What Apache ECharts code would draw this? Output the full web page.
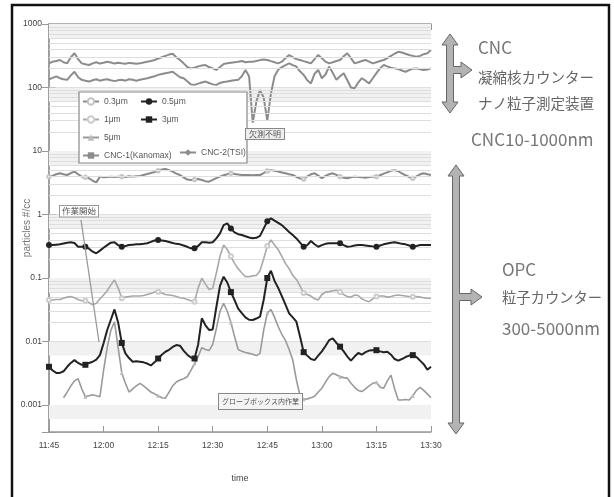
<!DOCTYPE html>
<html><head><meta charset="utf-8">
<script src="https://cdn.jsdelivr.net/npm/echarts@6/dist/echarts.min.js"></script>
<style>html,body{margin:0;padding:0;background:#fff}#c{width:614px;height:497px}</style>
</head><body><div id="c"></div>
<script>
// ---- tick labels ----
const xTickLabels = ['11:45','12:00','12:15','12:30','12:45','13:00','13:15','13:30'];
const yDecades = [0.001, 0.01, 0.1, 1, 10, 100, 1000];
// ---- time grid: minutes after 11:45 ----
const minutes = Array.from({length:106}, (_, i) => i);
// ---- series values (1-minute resolution) ----
const cnc1 = [240,255,262,271,250,240,300,346,280,240,232,226,240,250,238,245,255,248,238,245,
  240,236,244,240,236,240,248,255,262,271,285,300,315,330,340,300,271,240,210,200,
  205,215,222,226,210,200,189,210,235,240,245,250,255,262,250,255,255,262,270,275,
  271,260,250,240,255,290,325,300,280,271,260,250,240,280,325,290,255,240,250,262,
  271,310,346,290,240,250,262,271,255,240,250,262,271,290,315,340,365,355,340,325,
  315,305,315,335,346,390];
const cnc2 = [135,142,150,140,135,132,155,177,145,132,128,124,130,135,128,132,135,130,126,130,
  132,128,135,132,128,132,136,140,145,150,158,163,168,172,177,160,145,140,125,112,
  110,115,120,124,118,112,110,118,122,124,128,130,132,150,189,150,28,60,91,70,
  30,80,150,190,210,225,240,225,213,180,158,130,116,165,189,140,160,213,170,132,
  150,168,130,100,97,120,140,128,116,140,168,200,226,215,205,200,195,185,177,188,
  198,200,194,189,192,200];
const p03 = [3.95,4.1,4.3,4.45,4.3,4.19,4.5,4.73,4.3,3.95,3.85,3.72,3.4,3.21,3.95,3.85,3.9,3.95,3.9,3.95,
  3.95,3.9,4.0,3.95,4.0,4.05,4.2,4.35,4.5,4.65,4.9,5.1,5.2,5.0,4.73,4.4,4.19,3.85,3.55,3.49,
  3.55,3.62,3.5,3.35,3.29,3.5,3.75,3.95,4.15,4.3,4.45,4.35,4.25,4.2,4.19,4.2,4.15,4.2,4.19,4.5,
  4.85,5.0,4.9,4.75,4.6,4.45,4.3,4.19,3.9,3.7,3.62,4.0,4.3,4.45,4.1,3.72,4.05,4.3,4.45,4.2,
  3.95,3.8,3.72,3.85,3.95,3.9,3.85,3.8,3.9,3.95,3.95,4.15,4.4,4.6,4.9,5.0,4.8,4.45,4.15,3.9,
  3.72,4.0,4.3,4.45,4.3,4.19];
const p05 = [0.331,0.33,0.335,0.339,0.35,0.36,0.365,0.355,0.311,0.31,0.311,0.29,0.26,0.245,0.27,0.30,0.33,0.36,0.365,0.33,
  0.311,0.32,0.33,0.335,0.339,0.339,0.345,0.352,0.37,0.39,0.397,0.39,0.383,0.37,0.355,0.345,0.339,0.325,0.31,0.293,
  0.293,0.32,0.365,0.365,0.36,0.365,0.42,0.506,0.68,0.726,0.6,0.524,0.49,0.475,0.455,0.435,0.422,0.43,0.46,0.6,
  0.78,0.871,0.8,0.74,0.68,0.6,0.53,0.475,0.42,0.36,0.311,0.33,0.383,0.34,0.311,0.33,0.345,0.352,0.352,0.352,
  0.352,0.33,0.311,0.315,0.325,0.331,0.33,0.325,0.32,0.315,0.311,0.325,0.339,0.35,0.36,0.365,0.355,0.345,0.339,0.325,
  0.311,0.32,0.331,0.331,0.33,0.331];
const p1 = [0.045,0.045,0.046,0.046,0.048,0.05,0.051,0.049,0.046,0.044,0.044,0.041,0.038,0.04,0.047,0.054,0.063,0.078,0.093,0.07,
  0.048,0.05,0.051,0.052,0.052,0.052,0.053,0.055,0.057,0.06,0.061,0.058,0.055,0.054,0.053,0.051,0.049,0.048,0.046,0.044,
  0.0424,0.07,0.099,0.08,0.066,0.069,0.12,0.22,0.33,0.28,0.22,0.17,0.14,0.12,0.105,0.105,0.108,0.11,0.13,0.2,
  0.32,0.397,0.33,0.28,0.22,0.17,0.14,0.11,0.095,0.075,0.058,0.055,0.052,0.047,0.045,0.055,0.06,0.061,0.063,0.064,
  0.06,0.055,0.051,0.05,0.054,0.053,0.047,0.044,0.0424,0.047,0.051,0.052,0.052,0.05,0.051,0.053,0.054,0.053,0.052,0.051,
  0.0508,0.051,0.05,0.049,0.048,0.048];
const p3 = [0.004,0.0035,0.0032,0.0032,0.0034,0.004,0.0046,0.0051,0.0046,0.0043,0.0043,0.0046,0.0048,0.0052,0.0061,0.0094,0.0152,0.022,0.032,0.02,
  0.0095,0.0065,0.0055,0.0048,0.0049,0.0048,0.0047,0.0045,0.0042,0.0047,0.0054,0.0062,0.0069,0.0074,0.0082,0.0088,0.0086,0.0072,0.0062,0.0056,
  0.0054,0.009,0.0232,0.018,0.0152,0.0155,0.035,0.075,0.105,0.085,0.06,0.045,0.033,0.028,0.024,0.022,0.0218,0.023,0.0246,0.045,
  0.1,0.13,0.09,0.07,0.052,0.038,0.0278,0.024,0.0205,0.012,0.0068,0.006,0.0053,0.0051,0.006,0.007,0.0085,0.0105,0.0112,0.0095,
  0.0083,0.007,0.0058,0.005,0.0058,0.0066,0.0062,0.0068,0.0072,0.0073,0.0073,0.007,0.0068,0.0069,0.0062,0.0053,0.005,0.0053,0.0057,0.006,
  0.0061,0.0057,0.005,0.0044,0.0036,0.004];
const p5 = [null,null,null,null,0.0013,0.0016,0.002,0.0024,0.0026,0.0018,0.00135,0.0014,0.00145,0.0014,0.00135,0.0035,0.008,0.015,0.0205,0.008,
  0.0032,0.0022,0.0016,0.0018,0.002,0.0022,0.002,0.0018,0.0016,0.0015,0.0014,0.0013,0.00128,0.0016,0.002,0.0023,0.00248,0.0026,0.00279,0.0035,
  0.0045,0.0058,0.008,0.0075,0.0072,0.009,0.016,0.03,0.04,0.03,0.02,0.012,0.0075,0.007,0.0067,0.0065,0.0063,0.006,0.0065,0.015,
  0.028,0.032,0.024,0.0172,0.013,0.0104,0.0075,0.0051,0.0025,0.0014,0.00123,0.00125,0.0013,0.00137,0.0016,0.00184,0.0023,0.0028,0.00316,0.003,
  0.0028,0.0027,0.00265,0.0022,0.0019,0.0017,0.00163,0.0018,0.002,0.0022,0.00229,0.0019,0.00184,0.0024,0.00296,0.0018,0.0012,0.0012,0.00122,0.0012,
  0.0014,0.0017,0.0019,0.0017,0.0015,0.0013];

function pts(arr){ return minutes.map((m, i) => [m, arr[i]]); }
function markSize(s){ return function(v){ return (v[0] % 10 === 0) ? s : 0; }; }

// minor grid values (style only)
const minorGrid = [];
const bands = [];
for (let e = -4; e <= 2; e++) {
  const d = Math.pow(10, e);
  for (let k = 2; k <= 9; k++) minorGrid.push({yAxis: +(k * d).toPrecision(3)});
  bands.push([{yAxis: +(0.6 * d * 10).toPrecision(3)}, {yAxis: +(d * 10).toPrecision(3)}]);
}

const FONT = '"Liberation Sans Narrow","Liberation Sans",Arial,sans-serif';
const JP = '"Noto Sans CJK JP","Noto Sans",sans-serif';

const chart = echarts.init(document.getElementById('c'), null, {renderer:'canvas'});

function arrowPts(cx, top, bottom, by, tipX){
  const hw = 3.5, hh = 8, hl = 11;
  return [[cx, top],[cx+hh, top+hl],[cx+hw, top+hl],[cx+hw, by-hw],[tipX-hl, by-hw],[tipX-hl, by-hh],[tipX, by],
    [tipX-hl, by+hh],[tipX-hl, by+hw],[cx+hw, by+hw],[cx+hw, bottom-hl],[cx+hh, bottom-hl],[cx, bottom],
    [cx-hh, bottom-hl],[cx-hw, bottom-hl],[cx-hw, top+hl],[cx-hh, top+hl]];
}

const legendText = {fontSize: 8.5, color: '#555', fontFamily: FONT};
const legendBase = {orient: 'vertical', itemWidth: 16, itemHeight: 8, itemGap: 9, textStyle: legendText, padding: 0, z: 30};
const option = {
  animation: false,
  backgroundColor: '#fff',
  grid: {left: 49, right: 183, top: 24, bottom: 65, show: false, containLabel: false, outerBoundsMode: 'none'},
  legend: [
    Object.assign({data: ['0.3μm','1μm','5μm','CNC-1(Kanomax)'], left: 82, top: 97}, legendBase),
    Object.assign({data: ['0.5μm','3μm'], left: 140, top: 97}, legendBase),
    Object.assign({data: ['CNC-2(TSI)'], left: 179, top: 148}, legendBase)
  ],
  xAxis: [{
    type: 'value', min: 0, max: 105, interval: 15,
    name: 'time', nameLocation: 'middle', nameGap: 42, nameMoveOverlap: false,
    nameTextStyle: {fontSize: 9, color: '#444', fontFamily: FONT},
    axisLine: {lineStyle: {color: '#999', width: 1.5}},
    axisTick: {inside: true, length: 6, lineStyle: {color: '#999'}},
    axisLabel: {fontSize: 8.5, color: '#444', fontFamily: FONT, margin: 9,
      formatter: v => xTickLabels[Math.round(v / 15)]},
    splitLine: {show: false}
  }, {
    type: 'value', min: 0, max: 105, interval: 15, position: 'top',
    axisLine: {lineStyle: {color: '#999', width: 1.5}},
    axisTick: {inside: true, length: 6, lineStyle: {color: '#999'}},
    axisLabel: {show: false}, splitLine: {show: false}
  }],
  yAxis: [{
    type: 'log', logBase: 10, min: 0.000376, max: 1000,
    name: 'particles #/cc', nameLocation: 'middle', nameGap: 17, nameRotate: 90, nameMoveOverlap: false,
    nameTextStyle: {fontSize: 10, color: '#777', fontFamily: FONT},
    axisLine: {show: true, lineStyle: {color: '#999', width: 1.5}},
    axisTick: {inside: true, length: 7, lineStyle: {color: '#999'}},
    axisLabel: {fontSize: 8.5, color: '#444', fontFamily: FONT, margin: 7,
      formatter: v => { const l = Math.log10(v); return Math.abs(l - Math.round(l)) < 1e-6 ? String(yDecades[Math.round(l) + 3]) : ''; }},
    splitLine: {show: true, lineStyle: {color: '#cfcfcf', width: 1}}
  }, {
    type: 'log', logBase: 10, min: 0.000376, max: 1000, position: 'right',
    axisLine: {show: true, lineStyle: {color: '#999', width: 1.5}},
    axisTick: {inside: true, length: 7, lineStyle: {color: '#999'}},
    axisLabel: {show: false}, splitLine: {show: false}
  }],
  series: [
    {type: 'line', data: [], silent: true, z: 1,
      markLine: {silent: true, symbol: 'none', label: {show: false}, lineStyle: {color: '#dedede', width: 1, type: 'solid'}, data: minorGrid},
      markArea: {silent: true, itemStyle: {color: '#f1f1f1'}, data: bands}},
    {name: 'CNC-1(Kanomax)', type: 'line', data: pts(cnc1), z: 3, symbol: 'path://M0,0L1,0L1,10L0,10Z', symbolSize: 0,
      lineStyle: {color: '#8c8c8c', width: 2}, itemStyle: {color: '#8c8c8c'}},
    {name: 'CNC-2(TSI)', type: 'line', data: pts(cnc2), z: 3, symbol: 'diamond', symbolSize: 0,
      lineStyle: {color: '#8c8c8c', width: 2}, itemStyle: {color: '#8c8c8c'}},
    {name: '0.3μm', type: 'line', data: pts(p03), z: 4, symbol: 'emptyCircle', symbolSize: markSize(3.5),
      lineStyle: {color: '#8a8a8a', width: 2}, itemStyle: {color: '#c4c4c4', borderColor: '#c4c4c4', borderWidth: 1}},
    {name: '0.5μm', type: 'line', data: pts(p05), z: 6, symbol: 'circle', symbolSize: markSize(6),
      lineStyle: {color: '#222', width: 2}, itemStyle: {color: '#222'}},
    {name: '1μm', type: 'line', data: pts(p1), z: 5, symbol: 'emptyCircle', symbolSize: markSize(4),
      lineStyle: {color: '#a8a8a8', width: 1.6}, itemStyle: {color: '#ccc', borderColor: '#ccc', borderWidth: 1}},
    {name: '3μm', type: 'line', data: pts(p3), z: 6, symbol: 'rect', symbolSize: markSize(6),
      lineStyle: {color: '#222', width: 2}, itemStyle: {color: '#222'}},
    {name: '5μm', type: 'line', data: pts(p5), z: 5, symbol: 'triangle', symbolSize: markSize(4),
      lineStyle: {color: '#9a9a9a', width: 1.6}, itemStyle: {color: '#bbb'}}
  ],
  graphic: [
    {type: 'rect', z: 100, silent: true, shape: {x: 12, y: 5, width: 597, height: 510}, style: {fill: 'none', stroke: '#111', lineWidth: 2.5}},
    {type: 'rect', z: 8, silent: true, shape: {x: 79, y: 92, width: 168, height: 71}, style: {fill: '#fff', stroke: '#888', lineWidth: 1.2}},
    // annotations
    {type: 'line', z: 60, silent: true, shape: {x1: 81, y1: 220, x2: 99, y2: 342}, style: {stroke: '#999', lineWidth: 1.3}},
    {type: 'text', z: 61, silent: true, left: 59, top: 205, style: {text: '作業開始', font: '8.5px ' + JP, fill: '#555', backgroundColor: '#fff', borderColor: '#999', borderWidth: 1, padding: [1, 2]}},
    {type: 'text', z: 61, silent: true, left: 245, top: 128, style: {text: '欠測不明', font: '8px ' + JP, fill: '#555', backgroundColor: '#eee', borderColor: '#888', borderWidth: 1, padding: [1, 3]}},
    {type: 'text', z: 61, silent: true, left: 218, top: 393, style: {text: 'グローブボックス内作業', font: '7px ' + JP, fill: '#555', backgroundColor: '#f4f4f4', borderColor: '#888', borderWidth: 1, padding: [4, 3]}},
    // right arrows
    {type: 'polygon', z: 60, silent: true, shape: {points: arrowPts(450, 34, 113, 70, 472)}, style: {fill: '#b3b3b3', stroke: '#666', lineWidth: 1}},
    {type: 'polygon', z: 60, silent: true, shape: {points: arrowPts(456, 165, 434, 297, 482)}, style: {fill: '#b3b3b3', stroke: '#666', lineWidth: 1}},
    // right texts
    {type: 'text', z: 61, silent: true, x: 478, y: 48, style: {text: 'CNC', font: '17px ' + JP, fill: '#777', verticalAlign: 'middle'}},
    {type: 'text', z: 61, silent: true, x: 478, y: 77, style: {text: '凝縮核カウンター', font: '14.5px ' + JP, fill: '#666', verticalAlign: 'middle'}},
    {type: 'text', z: 61, silent: true, x: 478, y: 103, style: {text: 'ナノ粒子測定装置', font: '14.5px ' + JP, fill: '#666', verticalAlign: 'middle'}},
    {type: 'text', z: 61, silent: true, x: 471, y: 140, style: {text: 'CNC10-1000nm', font: '17px ' + JP, fill: '#777', verticalAlign: 'middle'}},
    {type: 'text', z: 61, silent: true, x: 502, y: 270, style: {text: 'OPC', font: '17px ' + JP, fill: '#777', verticalAlign: 'middle'}},
    {type: 'text', z: 61, silent: true, x: 502, y: 298, style: {text: '粒子カウンター', font: '14.3px ' + JP, fill: '#666', verticalAlign: 'middle'}},
    {type: 'text', z: 61, silent: true, x: 502, y: 329, style: {text: '300-5000nm', font: '17px ' + JP, fill: '#777', verticalAlign: 'middle'}}
  ]
};
chart.setOption(option);
</script></body></html>
